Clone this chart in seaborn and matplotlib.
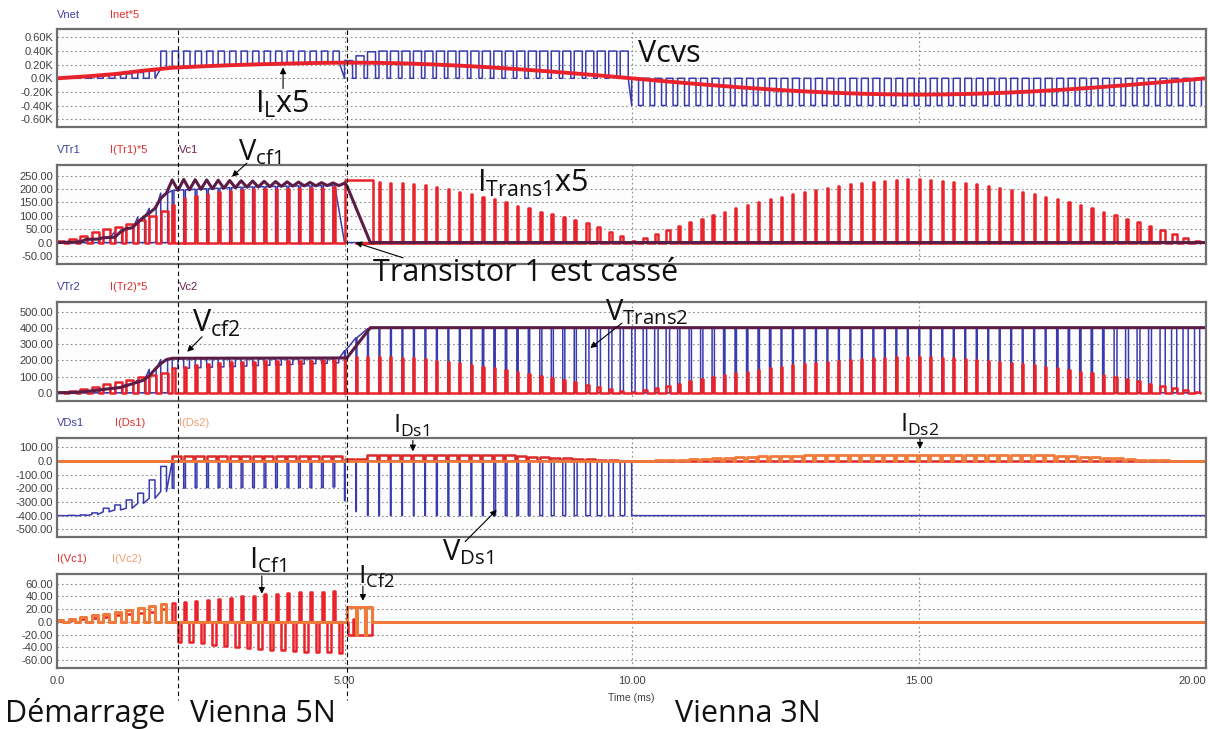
import numpy as np
import matplotlib
matplotlib.use("Agg")
import matplotlib.pyplot as plt
import seaborn as sns
from matplotlib.lines import Line2D

sns.set_theme(style="white")
plt.rcParams["font.family"] = ["Open Sans", "DejaVu Sans"]
plt.rcParams["mathtext.default"] = "regular"

PERIOD = 0.2                     # switching period (ms)
T_5N, T_3N = 2.0, 5.0            # start of each operating mode
PHASE_MARKS = [2.1, 5.04]        # dashed separators

# ---------------- panel 1 : Vnet / Inet*5 ----------------
vnet_start_hi = [8, 14, 22, 30, 40, 52, 66, 85, 110, 400]
vnet_start_lo = [0, 0, 0, 0, 0, 0, 0, 0, 0, 140]
vnet_5n_lo = [150, 160, 170, 180, 188, 195, 200, 205, 210, 213, 216, 220, 222, 225, 228]
vnet_3n_hi = [260, 330, 390] + [400] * 22 + [0] * 50
vnet_3n_lo = [0] * 25 + [-400] * 50
vnet_3n_duty = [0.7] * 25 + [0.6] * 50
inet_t = np.arange(0, 20.5, 0.5)
inet_v = [0, 28, 62, 112, 155, 175, 192, 205, 216, 225, 230,
          228, 220, 205, 186, 163, 135, 105, 72, 37, 0,
          -38, -74, -108, -140, -168, -192, -212, -227, -236, -240,
          -236, -227, -212, -192, -168, -140, -108, -74, -38, 0]

# ---------------- panel 2 : VTr1 / I(Tr1)*5 / Vc1 ----------------
itr1_start = [5, 15, 25, 38, 50, 58, 70, 85, 100, 118]
itr1_5n = [140, 165, 175, 183, 190, 194, 197, 199, 200, 201, 202, 203, 204, 205, 206]
itr1_3n = [234, 0, 0, 228, 224, 221, 218, 215, 209, 199, 190, 182, 172,
           163, 150, 138, 128, 116, 106, 95, 85, 72, 57, 41, 25,
           5, 18, 33, 47, 61, 75, 89, 102, 115, 128,
           140, 151, 162, 172, 181, 190, 198, 205, 212, 218,
           223, 227, 231, 234, 236, 236, 234, 231, 227, 223,
           218, 212, 205, 198, 190, 181, 172, 162, 151, 140,
           128, 115, 102, 89, 75, 61, 47, 33, 18, 5]
duty_3n = ([2.5, 0.1, 0.1] + [0.08] * 9 + [0.12] * 5 + [0.18] * 4 + [0.28] * 4
           + [0.3] * 4 + [0.2] * 4 + [0.12] * 5 + [0.08] * 24 + [0.12] * 5
           + [0.25] * 4 + [0.45] * 4)
vtr1_start = [0, 5, 10, 15, 20, 40, 55, 95, 128, 185]
vc1_start_t = [0.0, 0.4, 0.5, 0.7, 0.8, 1.0, 1.1, 1.2, 1.3, 1.4, 1.5, 1.6, 1.7, 1.8, 1.9, 2.0]
vc1_start_v = [0, 2, 12, 13, 18, 20, 40, 52, 55, 75, 95, 110, 128, 165, 185, 234]
vc1_peak = [236, 235, 234, 233, 232, 231, 230, 229, 228, 227, 226, 225, 224, 223, 222]
vc1_valley = [195, 197, 199, 201, 203, 205, 207, 208, 209, 210, 211, 212, 212, 213, 213]
vc1_end_t = [5.04, 5.45, 20.0]
vc1_end_v = [213, 0, 0]

# ---------------- panel 3 : VTr2 / I(Tr2)*5 / Vc2 ----------------
itr2_start = [6, 14, 25, 38, 52, 66, 80, 95, 110, 125]
itr2_5n = [150, 160, 170, 178, 184, 188, 191, 193, 195, 196, 197, 198, 199, 200, 200]
itr2_3n = [220, 222, 222, 221, 219, 216, 212, 206, 199, 191, 182, 172, 161,
           150, 138, 126, 114, 102, 90, 77, 64, 50, 36, 22, 9,
           4, 16, 30, 44, 57, 70, 83, 96, 108, 120,
           131, 142, 152, 162, 171, 179, 186, 193, 199, 204,
           209, 213, 216, 218, 219, 219, 218, 216, 213, 209,
           204, 199, 193, 186, 179, 171, 162, 152, 142, 131,
           120, 108, 96, 83, 70, 57, 44, 30, 16, 5]
duty_tr2_3n = [0.08] * 3 + duty_3n[3:]
vtr2_start = [0, 3, 8, 16, 25, 33, 55, 80, 145, 205]
vtr2_5n_low = [150, 152, 155, 158, 160, 162, 165, 168, 170, 172, 175, 178, 180, 182, 185]
vtr2_3n_top = [260, 340, 395] + [400] * 72
vc2_t = [0.0, 0.3, 0.5, 0.7, 0.9, 1.1, 1.3, 1.5, 1.6, 1.7, 1.8, 1.9, 2.0, 5.04, 5.45, 20.0]
vc2_v = [0, 2, 8, 16, 25, 33, 55, 78, 105, 145, 180, 205, 213, 215, 402, 402]

# ---------------- panel 4 : VDs1 / I(Ds1) / I(Ds2) ----------------
vds1_start_hi = [-400, -398, -395, -380, -346, -322, -285, -236, -139, -40]
vds1_start_lo = [-400, -400, -400, -392, -372, -358, -346, -310, -273, -224]
vds1_5n_lo = [-200, -198, -196, -195, -195, -195, -195, -195, -195, -195, -195, -195, -195, -195, -190]
vds1_3n_lo = [-290, -370] + [-400] * 23
vds1_3n_duty = [0.03] * 2 + [0.04] * 6 + [0.08] * 5 + [0.15] * 4 + [0.25] * 4 + [0.4] * 4
ids1_5n = [38] * 15
ids1_3n = [15, 15] + [40] * 13 + [36, 32, 28, 24, 20, 16, 12, 8, 4, 2]
ids2_3n = ([1, 2, 4, 6, 9, 12, 15, 19, 23, 27, 30, 33, 35, 37, 38] + [40] * 22
           + [37, 34, 30, 26, 22, 18, 14, 10, 7, 5, 3, 2, 1])

# ---------------- panel 5 : I(Vc1) / I(Vc2) ----------------
ivc1_start = [2, 3, 5, 6, 8, 10, 12, 14, 16, 20]
ivc2_start = [3, 5, 8, 10, 13, 16, 19, 22, 25, 28]
ivc1_pos_5n = [30, 31, 33, 35, 36, 38, 40, 41, 43, 44, 45, 46, 46, 47, 48]
ivc1_neg_5n = [31, 32, 34, 36, 38, 40, 41, 43, 44, 45, 46, 47, 48, 48, 49]
icf1_t = [5.04, 5.06, 5.06, 5.14, 5.14, 5.16, 5.16, 5.48, 5.48]
icf1_v = [0, 0, -21, -21, 4, 4, -21, -21, 0]
icf2_t = [5.04, 5.04, 5.2, 5.2, 5.22, 5.22, 5.36, 5.36, 5.38, 5.38, 5.48, 5.48]
icf2_v = [0, 24, 24, -21, -21, 24, 24, -21, -21, 24, 24, 0]


def square(t0, hi, lo, duty):
    n = max(np.size(a) for a in (hi, lo, duty))
    hi, lo, duty = (np.broadcast_to(np.asarray(a, float), (n,)) for a in (hi, lo, duty))
    xs, ys = [], []
    for k in range(n):
        t = t0 + k * PERIOD
        w = duty[k] * PERIOD
        xs += [t, t, t + w, t + w]
        ys += [lo[k], hi[k], hi[k], lo[k]]
    return xs, ys


def bipolar(t0, pos, neg, w_pos=0.2, gap=0.5, w_neg=0.3):
    xs, ys = [], []
    for k, (p, n) in enumerate(zip(pos, neg)):
        t = t0 + k * PERIOD
        a, b = t + w_pos * PERIOD, t + gap * PERIOD
        c = b + w_neg * PERIOD
        xs += [t, t, a, a, b, b, c, c]
        ys += [0, p, p, 0, 0, -n, -n, 0]
    return xs, ys


def join(*parts):
    xs, ys = [], []
    for px, py in parts:
        xs += list(px)
        ys += list(py)
    return xs, ys


def ripple(t0, valley, peak):
    xs, ys = [], []
    for k, (v, p) in enumerate(zip(valley, peak)):
        t = t0 + k * PERIOD
        xs += [t + 0.5 * PERIOD, t + PERIOD]
        ys += [v, p]
    return xs, ys


BLUE, RED, PURPLE, ORANGE = "#3b3bb0", "#e8232b", "#5b1c46", "#f07a3a"

traces = [
    [  # panel 1
        (join(square(0, vnet_start_hi, vnet_start_lo, 0.5),
              square(T_5N, 400, vnet_5n_lo, 0.55),
              square(T_3N, vnet_3n_hi, vnet_3n_lo, vnet_3n_duty)), BLUE, 1.1),
        ((inet_t, inet_v), RED, 2.8),
    ],
    [  # panel 2
        (join(square(0, 0, vtr1_start, 0.6),
              square(T_5N, 0, vc1_valley, 0.15),
              ([T_3N, 20], [0, 0])), BLUE, 1.1),
        (join(square(0, itr1_start, 0, 0.6),
              square(T_5N, itr1_5n, 0, 0.15),
              square(T_3N, itr1_3n, 0, duty_3n)), RED, 1.8),
        (join((vc1_start_t, vc1_start_v), ripple(T_5N, vc1_valley, vc1_peak),
              (vc1_end_t, vc1_end_v)), PURPLE, 2.2),
    ],
    [  # panel 3
        (join(square(0, 0, vtr2_start, 0.6),
              square(T_5N, vtr2_5n_low, 210, 0.5),
              square(T_3N, 0, vtr2_3n_top, duty_tr2_3n)), BLUE, 1.1),
        (join(square(0, itr2_start, 0, 0.6),
              square(T_5N, itr2_5n, 0, 0.2),
              square(T_3N, itr2_3n, 0, duty_tr2_3n)), RED, 1.8),
        ((vc2_t, vc2_v), PURPLE, 2.2),
    ],
    [  # panel 4
        (join(square(0, vds1_start_hi, vds1_start_lo, 0.5),
              square(T_5N, vds1_5n_lo, 0, 0.15),
              square(T_3N, vds1_3n_lo, 0, vds1_3n_duty),
              ([10, 10, 20], [0, -400, -400])), BLUE, 1.1),
        (join(([0, T_5N], [0, 0]),
              square(T_5N, ids1_5n, 0, 0.8),
              square(T_3N, ids1_3n, 0, 0.8),
              ([10, 20], [0, 0])), "#dc2a2a", 1.8),
        (join(([0, 10], [0, 0]), square(10, ids2_3n, 0, 0.8), ([20], [0])), ORANGE, 2.0),
    ],
    [  # panel 5
        (join(square(0, ivc1_start, 0, 0.5),
              bipolar(T_5N, ivc1_pos_5n, ivc1_neg_5n),
              (icf1_t, icf1_v), ([20], [0])), RED, 1.8),
        (join(square(0, ivc2_start, 0, 0.5), ([T_5N, 5.04], [0, 0]),
              (icf2_t, icf2_v), ([20], [0])), ORANGE, 2.2),
    ],
]

legends = [
    [("Vnet", "#4040a0", 0.0), ("Inet*5", "#e03030", 0.046)],
    [("VTr1", "#4040a0", 0.0), ("I(Tr1)*5", "#e03030", 0.046), ("Vc1", "#6a2050", 0.106)],
    [("VTr2", "#4040a0", 0.0), ("I(Tr2)*5", "#e03030", 0.046), ("Vc2", "#6a2050", 0.106)],
    [("VDs1", "#4040a0", 0.0), ("I(Ds1)", "#e03030", 0.050), ("I(Ds2)", "#f0a070", 0.106)],
    [("I(Vc1)", "#e03030", 0.0), ("I(Vc2)", "#f0a070", 0.048)],
]

ylims = [(-720, 720), (-80, 290), (-49, 562), (-554, 170), (-72, 75)]
yticks = [np.arange(-600, 601, 200), np.arange(-50, 251, 50), np.arange(0, 501, 100),
          np.arange(-500, 101, 100), np.arange(-60, 61, 20)]

AX_LEFT, AX_W = 0.0474, 0.9493
rects = [(0.8254, 0.1344), (0.6379, 0.1358), (0.4503, 0.1358), (0.2638, 0.1358), (0.0841, 0.1285)]

fig = plt.figure(figsize=(12.1, 7.29), dpi=100)
fig.patch.set_facecolor("white")
axes = []
for i, (b, h) in enumerate(rects):
    ax = fig.add_axes([AX_LEFT, b, AX_W, h])
    axes.append(ax)
    ax.set_facecolor("#fdfdfd")
    for (xy, color, lw) in traces[i]:
        sns.lineplot(x=list(xy[0]), y=list(xy[1]), ax=ax, color=color, linewidth=lw,
                     sort=False, estimator=None, errorbar=None)
    ax.set_xlim(0, 20)
    ax.set_ylim(*ylims[i])
    ax.set_yticks(yticks[i])
    if i == 0:
        labels = ["0.0K" if v == 0 else f"{v / 1000:.2f}K" for v in yticks[i]]
    else:
        labels = ["0.0" if v == 0 else f"{v:.2f}" for v in yticks[i]]
    ax.set_yticklabels(labels, family="Liberation Sans", fontsize=8, color="#404040")
    ax.set_xticks([0, 5, 10, 15, 20])
    ax.set_axisbelow(True)
    ax.grid(True, ls=(0, (1.5, 2.5)), color="#8c8c8c", lw=0.8)
    ax.tick_params(length=0, pad=3)
    for s in ax.spines.values():
        s.set_color("#6e6e6e")
        s.set_linewidth(1.6)
    ax.set_xlabel("")
    ax.set_ylabel("")
    if i < 4:
        ax.set_xticklabels([])
    else:
        ax.set_xticklabels(["0.0", "5.00", "10.00", "15.00", "20.00"],
                           family="Liberation Sans", fontsize=8, color="#404040")
        ax.get_xticklabels()[-1].set_ha("right")
        ax.tick_params(axis="x", pad=6)
        ax.set_xlabel("Time (ms)", family="Liberation Sans", fontsize=7.5,
                      color="#404040", labelpad=5)
    for text, color, xf in legends[i]:
        ax.annotate(text, xy=(xf, 1), xycoords="axes fraction", xytext=(0, 10.5),
                    textcoords="offset points", va="center", ha="left",
                    family="Liberation Sans", fontsize=8, color=color)

# phase separators crossing every panel
for t in PHASE_MARKS:
    xf = AX_LEFT + AX_W * t / 20
    fig.add_artist(Line2D([xf, xf], [1 - 30 / 729, 1 - 700 / 729], transform=fig.transFigure,
                          color="black", lw=0.8, ls=(0, (4, 3))))

# annotations: (panel, text, t, value, size)
notes = [
    (0, "Vcvs", 10.11, 240, 22),
    (0, "I$_{L}$x5", 3.44, -514, 22),
    (1, "V$_{cf1}$", 3.15, 309, 21),
    (1, "I$_{Trans1}$x5", 7.30, 190, 22),
    (1, "Transistor 1 est cassé", 5.50, -143, 22),
    (2, "V$_{cf2}$", 2.34, 377, 22),
    (2, "V$_{Trans2}$", 9.54, 449, 21),
    (3, "I$_{Ds1}$", 5.85, 203, 18),
    (3, "I$_{Ds2}$", 14.67, 214, 18),
    (3, "V$_{Ds1}$", 6.69, -724, 21),
    (4, "I$_{Cf1}$", 3.33, 84, 21),
    (4, "I$_{Cf2}$", 5.24, 60, 19),
]
for p, text, t, v, size in notes:
    axes[p].text(t, v, text, fontsize=size, ha="left", va="baseline", color="#111111")

# arrows: (panel, tail, tip)
arrows = [
    (0, (3.93, -150), (3.93, 160)),
    (1, (3.30, 297), (3.04, 246)),
    (1, (6.02, -57), (5.19, 0)),
    (2, (2.52, 346), (2.26, 253)),
    (2, (9.83, 430), (9.28, 276)),
    (3, (6.19, 150), (6.19, 70)),
    (3, (15.02, 160), (15.02, 90)),
    (3, (7.10, -590), (7.65, -358)),
    (4, (3.56, 72), (3.56, 44)),
    (4, (5.32, 56), (5.32, 33)),
]
for p, tail, tip in arrows:
    axes[p].annotate("", xy=tip, xytext=tail, annotation_clip=False,
                     arrowprops=dict(arrowstyle="-|>", color="black", lw=0.8,
                                     mutation_scale=9, shrinkA=0, shrinkB=0))

for text, x in [("Démarrage", 5), ("Vienna 5N", 190), ("Vienna 3N", 675)]:
    fig.text(x / 1210, 1 - 722 / 729, text, fontsize=22, ha="left", va="baseline",
             color="#111111")

fig.savefig("out.png", dpi=100, facecolor="white")
